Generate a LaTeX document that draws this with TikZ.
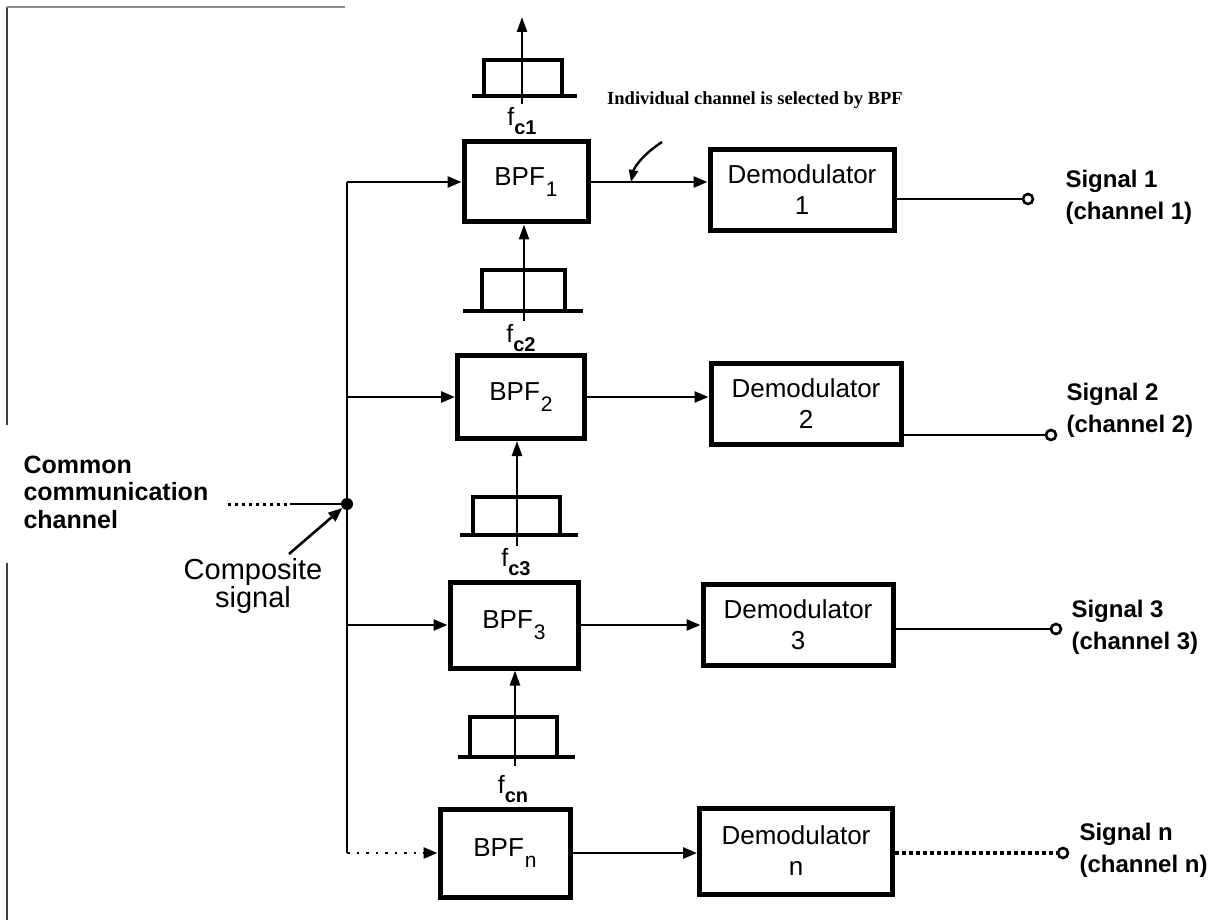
\documentclass[tikz,border=0pt]{standalone}
\usepackage{fontspec}
\setmainfont{Liberation Sans}
\newfontfamily\notefont{Liberation Serif}
\usetikzlibrary{arrows.meta}
% lowered index used in the block and frequency labels
\newcommand\lowidx[1]{\raisebox{-0.42em}{\fontsize{21}{21}\selectfont #1}}
\newcommand\fcidx[1]{f\raisebox{-0.38em}{\fontsize{20}{20}\selectfont\bfseries #1}}
\begin{document}
\begin{tikzpicture}[x=1pt,y=-1pt,
  block/.style={draw, line width=5pt, minimum width=124pt, minimum height=80pt,
    inner sep=0pt, align=center, font=\fontsize{26}{31}\selectfont},
  demod/.style={block, minimum width=184pt, minimum height=81pt},
  wire/.style={line width=2.6pt},
  arr/.style={wire, -{Triangle[length=14pt,width=11pt]}},
  uparr/.style={line width=2.4pt, -{Triangle[length=15pt,width=10pt]}},
  pass/.style={line width=3.2pt},
  term/.style={circle, draw, line width=2.6pt, fill=white, minimum size=10pt, inner sep=0pt},
  outlbl/.style={anchor=west, align=left, font=\fontsize{24}{32}\selectfont\bfseries},
  fclbl/.style={font=\fontsize{25}{25}\selectfont},
  dots/.style={line width=3pt, dash pattern=on 3pt off 4pt},
  edge/.style={line width=2pt, draw=black!75}
]
\useasboundingbox (0,0) rectangle (1232,920);

% worn page edge
\draw[edge] (7,7) -- (7,425);
\draw[edge] (7,563) -- (7,920);
\draw[line width=1.6pt, draw=black!45] (7,7) -- (345,7);

% band-pass filter blocks
\node[block] (b1) at (526,182) {BPF\kern1pt\lowidx{1}};
\node[block, minimum width=127pt, minimum height=83pt] (b2) at (521,397) {BPF\kern1pt\lowidx{2}};
\node[block, minimum width=128pt, minimum height=86pt] (b3) at (514,625) {BPF\kern1pt\lowidx{3}};
\node[block, minimum width=130pt, minimum height=88pt] (bn) at (505,853) {BPF\kern1pt\lowidx{n}};

% demodulators
\node[demod] (d1) at (802,190) {Demodulator\\1};
\node[demod, minimum width=190pt] (d2) at (806,404) {Demodulator\\2};
\node[demod, minimum width=190pt] (d3) at (798,625) {Demodulator\\3};
\node[demod, minimum width=193pt, minimum height=86pt] (dn) at (796,851) {Demodulator\\n};

% output terminals and their labels
\node[term] (s1) at (1028,199) {};
\node[term] (s2) at (1051,435) {};
\node[term] (s3) at (1056,629) {};
\node[term] (sn) at (1063,853) {};
\node[outlbl] (l1) at (1062,197) {Signal 1\\(channel 1)};
\node[outlbl] (l2) at (1063,410) {Signal 2\\(channel 2)};
\node[outlbl] (l3) at (1068,627) {Signal 3\\(channel 3)};
\node[outlbl] (ln) at (1076,850) {Signal n\\(channel n)};

% common channel input and junction
\node[anchor=west, align=left, font=\fontsize{25}{27.5}\selectfont\bfseries] (cc) at (20,492)
  {Common\\communication\\channel};
\node[circle, fill=black, minimum size=12pt, inner sep=0pt] (j) at (347,504) {};
\coordinate (c0) at (228,504);
\coordinate (c1) at (290,504);
\draw[dots] (c0) -- (c1);
\draw[wire] (c1) -- (j);
\node[align=center, font=\fontsize{29}{28}\selectfont] (comp) at (253,586) {Composite\\signal};
\draw[wire, -{Triangle[length=14pt,width=11pt]}] (289,554) coordinate (ct) -- (j);

% distribution bus
\draw[wire] (j |- b1.west) -- (j |- bn.west);
\draw[arr] (j |- b1.west) -- (b1.west);
\draw[arr] (j |- b2.west) -- (b2.west);
\draw[arr] (j |- b3.west) -- (b3.west);
\draw[arr, dash pattern=on 2.5pt off 7pt] (j |- bn.west) -- (bn.west);

% filter to demodulator
\draw[arr] (b1.east) -- (b1.east -| d1.west);
\draw[arr] (b2.east) -- (b2.east -| d2.west);
\draw[arr] (b3.east) -- (b3.east -| d3.west);
\draw[arr] (bn.east) -- (bn.east -| dn.west);

% demodulator to outputs
\draw[wire] (d1.east |- s1) -- (s1);
\draw[wire] (d2.east |- s2) -- (s2);
\draw[wire] (d3.east |- s3) -- (s3);
\draw[line width=3.4pt, dash pattern=on 3.5pt off 3.5pt] (dn.east |- sn) -- (sn);

% pass-band sketches with centre-frequency arrows
\draw[pass] (472,96) -- (577,96);
\draw[pass] (484,96) -- (484,60) -- (562,60) -- (562,96);
\coordinate (p1) at (522,104);
\draw[uparr] (p1) -- (522,17) coordinate (p1t);
\node[fclbl] (f1) at (522,121) {\fcidx{c1}};

\draw[pass] (463,311) -- (583,311);
\draw[pass] (482,311) -- (482,270) -- (565,270) -- (565,311);
\coordinate (p2) at (524,321);
\draw[uparr] (p2) -- (p2 |- b1.south);
\node[fclbl] (f2) at (521,338) {\fcidx{c2}};

\draw[pass] (460,535) -- (578,535);
\draw[pass] (473,535) -- (473,497) -- (560,497) -- (560,535);
\coordinate (p3) at (517,546);
\draw[uparr] (p3) -- (p3 |- b2.south);
\node[fclbl] (f3) at (516,562) {\fcidx{c3}};

\draw[pass] (458,757) -- (575,757);
\draw[pass] (470,757) -- (470,717) -- (557,717) -- (557,757);
\coordinate (pn) at (515,766);
\draw[uparr] (pn) -- (pn |- b3.south);
\node[fclbl] (fn) at (513,789) {\fcidx{cn}};

% annotation on the selected channel
\node[font=\notefont\fontsize{18.5}{18.5}\selectfont\bfseries] (note) at (755,100)
  {Individual channel is selected by BPF};
\coordinate (na) at (662,142);
\coordinate (nb) at (631,182);
\draw[line width=2.4pt, -{Triangle[length=12pt,width=9pt]}] (na) .. controls (642,155) and (634,168) .. (nb);
\end{tikzpicture}
\end{document}
